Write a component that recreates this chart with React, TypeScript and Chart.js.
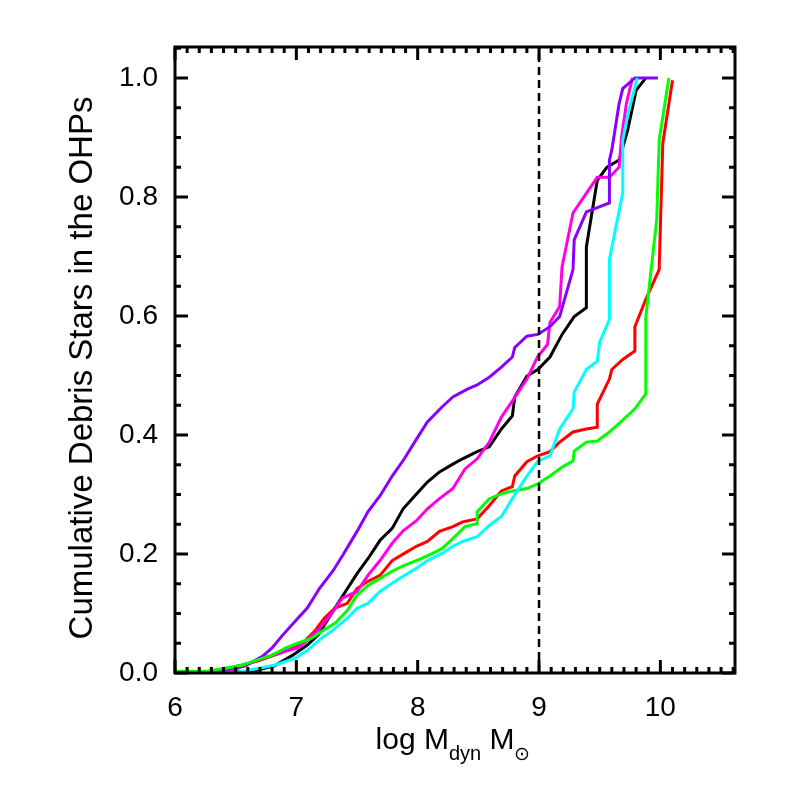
import React, { useEffect, useRef } from "react";
import { Chart, registerables } from "chart.js";

Chart.register(...registerables);

// Axis ranges and ticks
const xMin = 6;
const xMax = 10.615;
const yMin = 0;
const yMax = 1.052;
const xTickValues = [6, 7, 8, 9, 10];
const yTickValues = [0, 0.2, 0.4, 0.6, 0.8, 1.0];
const cutValue = 9;

const yTitle = "Cumulative Debris Stars in the OHPs";

// Series (log Mdyn, cumulative fraction)
const purpleX = [6.0, 6.33, 6.58, 6.72, 6.8, 6.88, 6.99, 7.09, 7.19, 7.3, 7.38, 7.5, 7.59, 7.69, 7.79, 7.89, 7.99, 8.08, 8.2, 8.29, 8.41, 8.49, 8.59, 8.69, 8.78, 8.8, 8.9, 8.99, 9.09, 9.17, 9.28, 9.29, 9.39, 9.58, 9.58, 9.6, 9.66, 9.69, 9.79, 9.98];
const purpleY = [0, 0.002, 0.012, 0.028, 0.042, 0.062, 0.087, 0.109, 0.142, 0.171, 0.197, 0.238, 0.271, 0.298, 0.331, 0.36, 0.393, 0.422, 0.447, 0.464, 0.477, 0.484, 0.497, 0.514, 0.531, 0.547, 0.566, 0.569, 0.582, 0.599, 0.678, 0.728, 0.775, 0.79, 0.862, 0.879, 0.957, 0.982, 1.0, 1.0];

const blackX = [6.0, 6.62, 6.82, 6.97, 7.09, 7.18, 7.29, 7.38, 7.5, 7.59, 7.69, 7.79, 7.88, 7.99, 8.08, 8.18, 8.29, 8.37, 8.49, 8.59, 8.69, 8.78, 8.8, 8.9, 8.99, 9.09, 9.19, 9.29, 9.39, 9.39, 9.48, 9.56, 9.66, 9.73, 9.8, 9.88];
const blackY = [0, 0.002, 0.012, 0.03, 0.047, 0.064, 0.1, 0.129, 0.167, 0.192, 0.223, 0.243, 0.276, 0.301, 0.321, 0.338, 0.351, 0.36, 0.372, 0.38, 0.41, 0.432, 0.464, 0.499, 0.51, 0.531, 0.569, 0.599, 0.614, 0.716, 0.828, 0.85, 0.862, 0.912, 0.979, 1.0];

const magentaX = [6.0, 6.45, 6.68, 6.91, 7.01, 7.09, 7.18, 7.29, 7.38, 7.5, 7.59, 7.69, 7.79, 7.88, 7.99, 8.08, 8.18, 8.29, 8.39, 8.49, 8.59, 8.69, 8.78, 8.9, 8.99, 9.07, 9.09, 9.17, 9.19, 9.28, 9.37, 9.48, 9.58, 9.66, 9.68, 9.72, 9.77];
const magentaY = [0, 0.002, 0.022, 0.037, 0.042, 0.055, 0.072, 0.1, 0.126, 0.137, 0.164, 0.189, 0.218, 0.239, 0.256, 0.276, 0.293, 0.31, 0.343, 0.36, 0.388, 0.43, 0.457, 0.494, 0.532, 0.552, 0.589, 0.616, 0.683, 0.773, 0.8, 0.833, 0.833, 0.85, 0.9, 0.957, 1.0];

const cyanX = [6.0, 6.49, 6.82, 6.99, 7.09, 7.21, 7.29, 7.42, 7.5, 7.59, 7.69, 7.79, 7.89, 7.99, 8.08, 8.2, 8.29, 8.37, 8.49, 8.59, 8.69, 8.78, 8.9, 8.99, 9.09, 9.17, 9.28, 9.29, 9.39, 9.48, 9.5, 9.58, 9.58, 9.69, 9.69, 9.73, 9.79, 9.81];
const cyanY = [0, 0, 0.013, 0.025, 0.038, 0.059, 0.07, 0.092, 0.109, 0.117, 0.137, 0.151, 0.164, 0.176, 0.189, 0.201, 0.213, 0.221, 0.229, 0.248, 0.263, 0.293, 0.331, 0.356, 0.365, 0.41, 0.444, 0.472, 0.51, 0.524, 0.556, 0.594, 0.695, 0.807, 0.895, 0.937, 0.984, 1.0];

const redX = [6.0, 6.33, 6.68, 6.82, 6.93, 7.05, 7.15, 7.23, 7.32, 7.42, 7.5, 7.59, 7.69, 7.79, 7.89, 7.99, 8.08, 8.18, 8.29, 8.37, 8.49, 8.59, 8.69, 8.78, 8.8, 8.9, 8.99, 9.09, 9.17, 9.28, 9.39, 9.48, 9.48, 9.58, 9.6, 9.69, 9.79, 9.79, 9.88, 9.99, 10.02, 10.1];
const redY = [0, 0.002, 0.02, 0.03, 0.038, 0.05, 0.07, 0.092, 0.109, 0.117, 0.142, 0.154, 0.164, 0.189, 0.201, 0.213, 0.221, 0.238, 0.246, 0.254, 0.259, 0.281, 0.306, 0.313, 0.331, 0.355, 0.365, 0.372, 0.388, 0.405, 0.41, 0.413, 0.452, 0.494, 0.51, 0.527, 0.541, 0.582, 0.628, 0.678, 0.89, 0.996];

const greenX = [6.0, 6.27, 6.41, 6.55, 6.68, 6.8, 6.91, 7.01, 7.13, 7.21, 7.32, 7.42, 7.5, 7.59, 7.69, 7.79, 7.89, 7.99, 8.08, 8.2, 8.29, 8.39, 8.49, 8.49, 8.59, 8.69, 8.78, 8.9, 8.99, 9.09, 9.19, 9.28, 9.29, 9.39, 9.48, 9.58, 9.69, 9.79, 9.88, 9.88, 9.97, 9.99, 10.07];
const greenY = [0.003, 0.003, 0.008, 0.013, 0.022, 0.03, 0.042, 0.05, 0.059, 0.07, 0.084, 0.105, 0.131, 0.147, 0.159, 0.171, 0.181, 0.189, 0.197, 0.209, 0.226, 0.246, 0.251, 0.271, 0.293, 0.301, 0.306, 0.31, 0.318, 0.331, 0.346, 0.356, 0.373, 0.388, 0.39, 0.405, 0.425, 0.444, 0.469, 0.598, 0.762, 0.895, 1.0];

const seriesColors = {
  cyan: "#00ffff",
  green: "#00ff00",
  purple: "#8800ff",
  magenta: "#ff00e6",
  black: "#000000",
  red: "#ff0000",
};

const FONT = "'Liberation Sans', Arial, Helvetica, sans-serif";

function pts(xs: number[], ys: number[]) {
  return xs.map((x, i) => ({ x, y: ys[i] }));
}

const framePlugin = {
  id: "frame",
  afterDatasetsDraw(chart: any) {
    const { ctx, chartArea } = chart;
    const { left, right, top, bottom } = chartArea;
    const xs = chart.scales.x;
    const ys = chart.scales.y;
    ctx.save();
    ctx.strokeStyle = "#000";
    ctx.lineWidth = 3;
    ctx.lineCap = "butt";
    ctx.strokeRect(left, top, right - left, bottom - top);
    // x ticks (major each 1, minor each 0.1), bottom and top, pointing inward
    for (let i = 0; ; i++) {
      const v = xMin + i * 0.1;
      if (v > xMax + 1e-9) break;
      const major = Math.round(v * 10) % 10 === 0;
      const len = major ? 13 : 6;
      const px = xs.getPixelForValue(v);
      ctx.beginPath();
      ctx.moveTo(px, bottom);
      ctx.lineTo(px, bottom - len);
      ctx.moveTo(px, top);
      ctx.lineTo(px, top + len);
      ctx.stroke();
    }
    // y ticks (major each 0.2, minor each 0.05), left and right
    for (let i = 0; ; i++) {
      const v = yMin + i * 0.05;
      if (v > yMax + 1e-9) break;
      const major = Math.round(v * 100) % 20 === 0;
      const len = major ? 13 : 6;
      const py = ys.getPixelForValue(v);
      ctx.beginPath();
      ctx.moveTo(left, py);
      ctx.lineTo(left + len, py);
      ctx.moveTo(right, py);
      ctx.lineTo(right - len, py);
      ctx.stroke();
    }
    ctx.restore();
  },
  afterDraw(chart: any) {
    const { ctx, chartArea } = chart;
    // x-axis title with subscripts
    const cx = (chartArea.left + chartArea.right) / 2 - 2;
    const base = chartArea.bottom + 76;
    const parts = [
      { t: "log M", size: 30, dy: 0 },
      { t: "dyn", size: 20, dy: 11 },
      { t: " M", size: 30, dy: 0 },
      { t: "\u2299", size: 19, dy: 11 },
    ];
    ctx.save();
    ctx.fillStyle = "#000";
    ctx.textBaseline = "alphabetic";
    ctx.textAlign = "left";
    let total = 0;
    const widths = parts.map((p) => {
      ctx.font = `${p.size}px ${FONT}`;
      const w = ctx.measureText(p.t).width;
      total += w;
      return w;
    });
    let x = cx - total / 2;
    parts.forEach((p, i) => {
      ctx.font = `${p.size}px ${FONT}`;
      ctx.fillText(p.t, x, base + p.dy);
      x += widths[i];
    });
    ctx.restore();

    // y-axis title (rotated)
    ctx.save();
    ctx.fillStyle = "#000";
    ctx.font = `33px ${FONT}`;
    ctx.textAlign = "center";
    ctx.textBaseline = "alphabetic";
    ctx.translate(chartArea.left - 83, (chartArea.top + chartArea.bottom) / 2 + 8);
    ctx.rotate(-Math.PI / 2);
    ctx.fillText(yTitle, 0, 0);
    ctx.restore();
  },
};

export default function App() {
  const ref = useRef<HTMLCanvasElement | null>(null);

  useEffect(() => {
    if (!ref.current) return;
    const lineDs = (label: string, xs: number[], ys: number[], color: string) => ({
      label,
      data: pts(xs, ys),
      borderColor: color,
      backgroundColor: color,
      borderWidth: 3,
      pointRadius: 0,
      fill: false,
      tension: 0,
    });
    const chart = new Chart(ref.current, {
      type: "line",
      data: {
        datasets: [
          {
            label: "cut",
            data: [
              { x: cutValue, y: yMin },
              { x: cutValue, y: yMax },
            ],
            borderColor: "#000",
            borderWidth: 2.5,
            borderDash: [8, 5],
            pointRadius: 0,
            fill: false,
          },
          lineDs("cyan", cyanX, cyanY, seriesColors.cyan),
          lineDs("green", greenX, greenY, seriesColors.green),
          lineDs("purple", purpleX, purpleY, seriesColors.purple),
          lineDs("magenta", magentaX, magentaY, seriesColors.magenta),
          lineDs("black", blackX, blackY, seriesColors.black),
          lineDs("red", redX, redY, seriesColors.red),
        ],
      },
      options: {
        responsive: false,
        animation: false,
        devicePixelRatio: 1,
        layout: { padding: { top: 47, right: 51, left: 0, bottom: 0 } },
        plugins: { legend: { display: false }, tooltip: { enabled: false } },
        scales: {
          x: {
            type: "linear",
            min: xMin,
            max: xMax,
            grid: { display: false, drawTicks: false },
            border: { display: false },
            afterBuildTicks: (s: any) => {
              s.ticks = xTickValues.map((v) => ({ value: v }));
            },
            afterFit: (s: any) => {
              s.height = 113;
            },
            ticks: {
              color: "#000",
              font: { family: FONT, size: 28 },
              padding: 18,
              maxRotation: 0,
              autoSkip: false,
              callback: (v: any) => String(v),
            },
          },
          y: {
            type: "linear",
            min: yMin,
            max: yMax,
            grid: { display: false, drawTicks: false },
            border: { display: false },
            afterBuildTicks: (s: any) => {
              s.ticks = yTickValues.map((v) => ({ value: v }));
            },
            afterFit: (s: any) => {
              s.width = 175;
            },
            ticks: {
              color: "#000",
              font: { family: FONT, size: 28 },
              padding: 17,
              autoSkip: false,
              callback: (v: any) => Number(v).toFixed(1),
            },
          },
        },
      },
      plugins: [framePlugin],
    });
    return () => chart.destroy();
  }, []);

  return (
    <div style={{ position: "absolute", left: 0, top: 0, width: 786, height: 786, background: "#fff" }}>
      <canvas ref={ref} width={786} height={786} style={{ width: 786, height: 786, display: "block" }} />
    </div>
  );
}
